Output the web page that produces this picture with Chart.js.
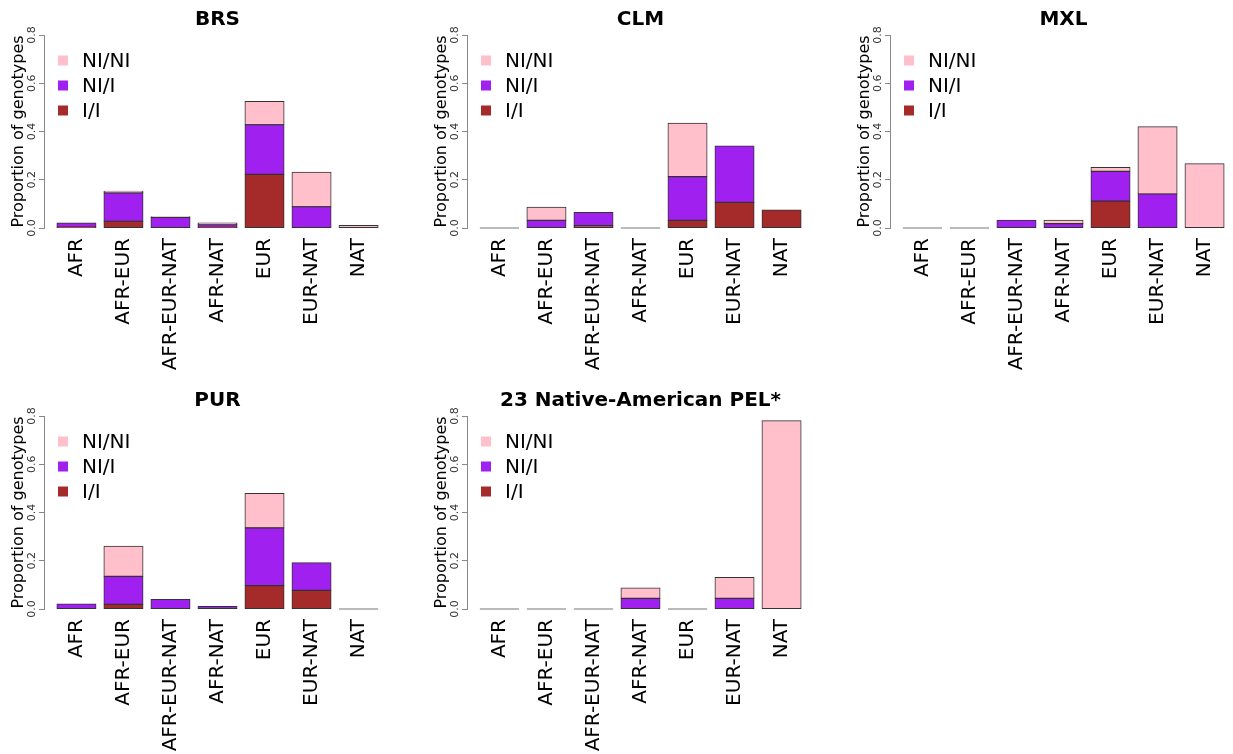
<!DOCTYPE html>
<html>
<head>
<meta charset="utf-8">
<script src="https://cdn.jsdelivr.net/npm/chart.js@4"></script>
<style>
  html, body { margin: 0; padding: 0; background: #fff; overflow: hidden; }
  body { width: 1233px; height: 754px; position: relative; }
  canvas { position: absolute; }
</style>
</head>
<body>
<canvas id="brs" width="400" height="381" style="left:0;top:0"></canvas>
<canvas id="clm" width="400" height="381" style="left:423px;top:0"></canvas>
<canvas id="mxl" width="400" height="381" style="left:846px;top:0"></canvas>
<canvas id="pur" width="400" height="373" style="left:0;top:381px"></canvas>
<canvas id="pel" width="400" height="373" style="left:423px;top:381px"></canvas>
<script>
// ancestry categories on the x axis
const categories = ['AFR', 'AFR-EUR', 'AFR-EUR-NAT', 'AFR-NAT', 'EUR', 'EUR-NAT', 'NAT'];
const genotypes = ['I/I', 'NI/I', 'NI/NI'];
const yTicks = [0, 0.2, 0.4, 0.6, 0.8];

// proportions per population (I/I, NI/I, NI/NI)
const brsII   = [0.004, 0.028, 0, 0.003, 0.222, 0, 0];
const brsNII  = [0.017, 0.118, 0.044, 0.011, 0.206, 0.088, 0];
const brsNINI = [0, 0.007, 0.003, 0.007, 0.097, 0.143, 0.011];

const clmII   = [0, 0, 0.010, 0, 0.032, 0.106, 0.075];
const clmNII  = [0, 0.032, 0.055, 0, 0.181, 0.234, 0];
const clmNINI = [0, 0.054, 0, 0, 0.222, 0, 0];

const mxlII   = [0, 0, 0, 0, 0.111, 0, 0];
const mxlNII  = [0, 0, 0.033, 0.018, 0.124, 0.141, 0];
const mxlNINI = [0, 0, 0, 0.015, 0.016, 0.279, 0.267];

const purII   = [0, 0.019, 0, 0, 0.097, 0.077, 0];
const purNII  = [0.021, 0.116, 0.040, 0.011, 0.239, 0.115, 0];
const purNINI = [0, 0.126, 0, 0, 0.143, 0, 0];

const pelII   = [0, 0, 0, 0, 0, 0, 0];
const pelNII  = [0, 0, 0, 0.044, 0, 0.044, 0];
const pelNINI = [0, 0, 0, 0.043, 0, 0.087, 0.781];

const colors = ['#A52A2A', '#A020F0', '#FFC0CB'];

Chart.defaults.font.family = "'DejaVu Sans', sans-serif";
Chart.defaults.color = '#000';

// barplot-style positions: width 1, space 0.2
const barCenter = i => 0.7 + 1.2 * i;

// title, legend and flat lines for empty bars
const decor = {
    id: 'decor',
    afterDatasetsDraw(chart, args, opts) {
        const ctx = chart.ctx;
        const { left, right, top } = chart.chartArea;
        const y0 = chart.scales.y.getPixelForValue(0);
        const bars = chart.getDatasetMeta(0).data;
        ctx.save();
        ctx.strokeStyle = '#777';
        ctx.lineWidth = 1.2;
        opts.totals.forEach((t, i) => {
            if (t > 0) return;
            const b = bars[i];
            ctx.beginPath();
            ctx.moveTo(b.x - b.width / 2, y0);
            ctx.lineTo(b.x + b.width / 2, y0);
            ctx.stroke();
        });

        ctx.fillStyle = '#000';
        ctx.font = "bold 20px 'DejaVu Sans'";
        ctx.textAlign = 'center';
        ctx.textBaseline = 'middle';
        ctx.fillText(opts.title, (left + right) / 2, top - 15);

        ctx.font = "20px 'DejaVu Sans'";
        ctx.textAlign = 'left';
        const order = [2, 1, 0];
        order.forEach((k, row) => {
            const cy = top + 25.5 + row * 25;
            ctx.fillStyle = colors[k];
            ctx.fillRect(left + 14, cy - 5, 10, 10);
            ctx.fillStyle = '#000';
            ctx.fillText(genotypes[k], left + 38, cy + 1);
        });
        ctx.restore();
    }
};

function makePanel(id, title, ii, nii, nini) {
    const canvas = document.getElementById(id);
    const H = canvas.height;
    const series = [ii, nii, nini];
    const totals = categories.map((c, i) => ii[i] + nii[i] + nini[i]);
    return new Chart(canvas, {
        type: 'bar',
        data: {
            datasets: series.map((vals, k) => ({
                label: genotypes[k],
                data: vals.map((v, i) => ({ x: barCenter(i), y: v })),
                backgroundColor: colors[k],
                borderColor: '#333',
                borderWidth: 1,
                borderSkipped: false,
                inflateAmount: 0.4,
                categoryPercentage: 1,
                barPercentage: 1 / 1.2
            }))
        },
        options: {
            responsive: false,
            animation: false,
            events: [],
            layout: { padding: { top: 35, right: 9, left: 0, bottom: 0 } },
            plugins: {
                legend: { display: false },
                tooltip: { enabled: false },
                decor: { title: title, totals: totals }
            },
            scales: {
                x: {
                    type: 'linear',
                    stacked: true,
                    offset: false,
                    min: -0.128,
                    max: 8.728,
                    grid: { display: false, offset: false },
                    border: { display: false },
                    afterBuildTicks: scale => {
                        scale.ticks = categories.map((c, i) => ({ value: barCenter(i) }));
                    },
                    afterFit: scale => { scale.height = H - 228; },
                    ticks: {
                        autoSkip: false,
                        minRotation: 90,
                        maxRotation: 90,
                        padding: 2,
                        font: { size: 20 },
                        color: '#000',
                        callback: (v, i) => categories[i]
                    }
                },
                y: {
                    stacked: true,
                    min: 0,
                    max: 0.8,
                    afterBuildTicks: scale => {
                        scale.ticks = yTicks.map(v => ({ value: v }));
                    },
                    afterFit: scale => { scale.width = 44; },
                    grid: { drawOnChartArea: false, tickLength: 5, color: '#888' },
                    border: { display: true, color: '#888' },
                    ticks: {
                        minRotation: 90,
                        maxRotation: 90,
                        crossAlign: 'center',
                        padding: -2,
                        font: { size: 11 },
                        color: '#333',
                        callback: v => v.toFixed(1)
                    },
                    title: {
                        display: true,
                        text: 'Proportion of genotypes',
                        font: { size: 16 },
                        color: '#000',
                        padding: { top: 9, bottom: 0 }
                    }
                }
            }
        },
        plugins: [decor]
    });
}

makePanel('brs', 'BRS', brsII, brsNII, brsNINI);
makePanel('clm', 'CLM', clmII, clmNII, clmNINI);
makePanel('mxl', 'MXL', mxlII, mxlNII, mxlNINI);
makePanel('pur', 'PUR', purII, purNII, purNINI);
makePanel('pel', '23 Native-American PEL*', pelII, pelNII, pelNINI);
</script>
</body>
</html>
